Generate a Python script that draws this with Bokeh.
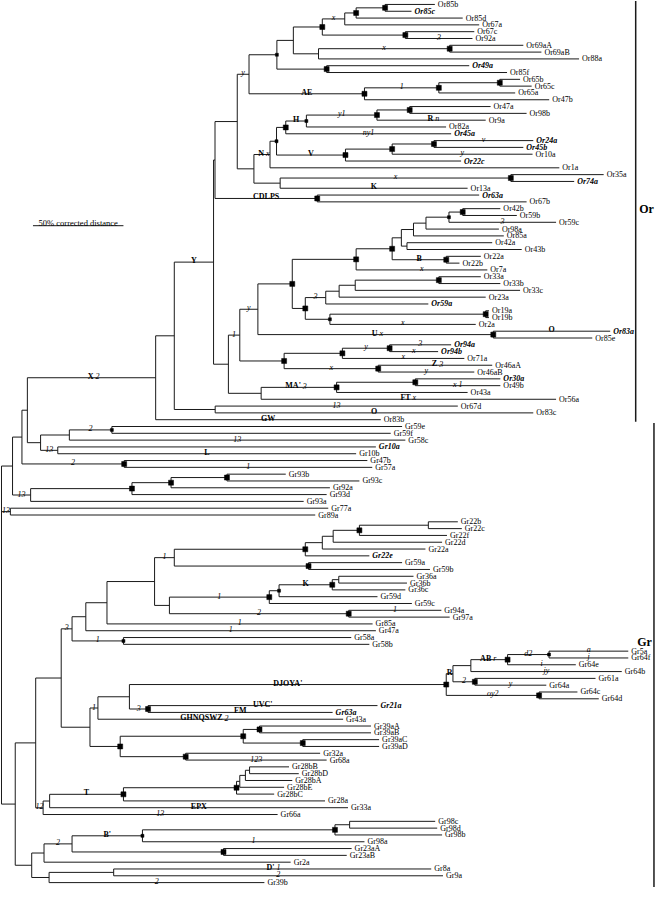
from collections import defaultdict
from bokeh.plotting import figure
from bokeh.models import Range1d, ColumnDataSource
from bokeh.embed import file_html
from bokeh.resources import INLINE
from bokeh.core.properties import value

# ---------------- data ----------------
# internal nodes: (id, parent, distance from root in % corrected distance, branch note, node marker)
OR_NODES = [
    ("b1", "root", 6.1, "", ""), ("b2", "b1", 11.3, "", ""), ("b3", "b2", 14.3, "", ""),
    ("orX", "b3", 85.2, "X 2", ""), ("or1", "orX", 95.5, "", ""), ("orY", "or1", 117.2, "Y", ""),
    ("orA", "orY", 118.0, "", ""), ("orB", "orA", 130.3, "", ""), ("orC", "orB", 136.8, "y", ""),
    ("orD", "orC", 152.2, "", "d"), ("orE", "orD", 161.3, "", ""), ("orF", "orE", 177.3, "", "s"),
    ("orG", "orF", 189.7, "x", ""), ("orH", "orG", 196.0, "", "s"), ("orI", "orH", 212.0, "", "s"),
    ("orJ", "orF", 223.2, "", "s"), ("orK", "orE", 175.2, "", ""), ("orL", "orK", 247.7, "x", "s"),
    ("orM", "orD", 179.7, "", "s"), ("orN", "orC", 200.6, "AE", "s"), ("orO", "orN", 241.7, "1", "s"),
    ("orP", "orO", 275.4, "", "s"), ("orQ", "orB", 139.5, "", ""), ("orR", "orQ", 148.4, "N x", ""),
    ("orS", "orR", 152.0, "", "d"), ("orT", "orS", 157.1, "", "s"), ("orU", "orT", 168.5, "H", "d"),
    ("orV", "orU", 207.5, "y1", "s"), ("orW", "orV", 225.6, "", "s"), ("orX2", "orS", 190.1, "V", "s"),
    ("orY2", "orX2", 215.9, "", "s"), ("orZ", "orY2", 239.0, "", "s"), ("os1", "orQ", 154.0, "", ""),
    ("os2", "os1", 281.5, "x", "s"), ("os3", "orA", 174.5, "CDLPS", "s"), ("os4", "orY", 125.4, "", ""),
    ("os5", "os4", 131.7, "1", ""), ("os6", "os5", 141.7, "y", ""), ("os7", "os6", 160.7, "", "s"),
    ("os8", "os7", 196.0, "", "s"), ("os9", "os8", 215.9, "", "s"), ("ot1", "os9", 221.0, "", ""),
    ("ot2", "ot1", 227.7, "", ""), ("ot3", "ot2", 234.6, "", ""), ("ot4", "ot3", 247.3, "", "d"),
    ("ot5", "ot4", 254.9, "", "s"), ("ot6", "ot1", 224.1, "", ""), ("ot7", "os9", 245.8, "B", "s"),
    ("ot8", "os7", 167.9, "", "s"), ("ot9", "ot8", 179.2, "3", ""), ("ou1", "ot9", 186.6, "", ""),
    ("ou2", "ou1", 195.5, "", ""), ("ou3", "ou2", 241.7, "", "s"), ("ou4", "ot8", 181.5, "", "d"),
    ("ou5", "ou4", 267.6, "", "s"), ("ou6", "os6", 271.8, "U x", "s"), ("ou7", "os5", 156.2, "", "s"),
    ("ou8", "ou7", 188.4, "", "s"), ("ou9", "ou8", 214.5, "y", "s"), ("ov1", "ou7", 208.2, "x", "s"),
    ("ov2", "os4", 143.5, "", ""), ("ov3", "ov2", 185.2, "MA' 3", "s"), ("ov4", "ov3", 228.7, "", "s"),
    ("ov5", "or1", 118.1, "", ""),
]
GR_NODES = [
    ("g1", "b3", 21.6, "", ""), ("g2", "g1", 37.5, "", ""), ("g3", "g2", 61.0, "2", "d"),
    ("g4", "g1", 31.1, "13", ""), ("g5", "b2", 67.8, "2", "s"), ("g6", "b1", 16.1, "13", ""),
    ("g7", "g6", 72.1, "", "s"), ("g8", "g7", 93.7, "", "s"), ("g9", "g8", 124.6, "", "s"),
    ("h1", "root", 4.9, "13", ""), ("h2", "root", 7.6, "", ""), ("h3", "h2", 18.9, "", ""),
    ("h4", "h3", 33.0, "", ""), ("h5", "h4", 39.0, "3", ""), ("h6", "h5", 46.6, "", ""),
    ("h7", "h6", 58.3, "", ""), ("h8", "h7", 84.6, "", ""), ("h9", "h8", 95.5, "1", ""),
    ("k1", "h9", 167.9, "", "s"), ("k2", "k1", 177.3, "", ""), ("k3", "k2", 183.3, "", ""),
    ("k4", "k3", 197.8, "", "s"), ("k5", "k4", 235.9, "", ""), ("k6", "h9", 169.7, "", "s"),
    ("k7", "h8", 92.8, "", ""), ("k8", "k7", 148.0, "1", "s"), ("k9", "k8", 153.4, "", "d"),
    ("m1", "k9", 182.8, "K", "s"), ("m2", "m1", 186.4, "", ""), ("m3", "k7", 191.9, "2", "s"),
    ("m4", "h5", 67.4, "1", "d"), ("m5", "h4", 48.9, "", ""), ("m6", "m5", 53.3, "1", ""),
    ("m7", "m6", 70.7, "", ""), ("m8", "m7", 245.8, "DJOYA'", "s"), ("m9", "m8", 249.5, "R", ""),
    ("n1", "m9", 259.4, "", ""), ("n2", "n1", 279.7, "AB r", "s"), ("n3", "n2", 302.6, "d2", "d"),
    ("n4", "m9", 261.6, "2", "s"), ("n5", "m8", 297.1, "oy2", "s"), ("n6", "m7", 81.0, "3", "s"),
    ("n7", "m5", 65.6, "", "s"), ("n8", "n7", 133.6, "", "s"), ("n9", "n8", 142.6, "", "s"),
    ("p1", "n8", 166.5, "", "s"), ("p2", "n7", 101.8, "", "s"), ("p3", "h3", 23.0, "12", ""),
    ("p4", "p3", 26.6, "", ""), ("p5", "p4", 67.4, "T", "s"), ("p6", "p5", 129.9, "", "s"),
    ("p7", "p6", 131.7, "", ""), ("p8", "p7", 134.8, "", ""), ("p9", "p8", 137.1, "", ""),
    ("q1", "h2", 16.7, "", ""), ("q2", "q1", 23.5, "", ""), ("q3", "q2", 39.0, "2", ""),
    ("q4", "q3", 77.9, "B'", "d"), ("q5", "q4", 184.3, "", "s"), ("q6", "q5", 192.4, "", ""),
    ("q7", "q3", 122.7, "", "s"), ("q8", "q1", 26.3, "", ""), ("q9", "q8", 62.0, "", ""),
]
# leaves in display order: (name, parent, distance, branch note)
OR_LEAVES = [
    ("Or85b", "orI", 239.5, ""), ("Or85c", "orI", 226.6, ""), ("Or85d", "orH", 254.9, ""),
    ("Or67a", "orG", 264.0, ""), ("Or67c", "orJ", 261.3, ""), ("Or92a", "orJ", 260.3, "3"),
    ("Or69aA", "orL", 288.4, ""), ("Or69aB", "orL", 298.4, ""), ("Or88a", "orK", 319.2, ""),
    ("Or49a", "orM", 258.5, ""), ("Or85f", "orM", 279.4, ""), ("Or65b", "orP", 286.6, ""),
    ("Or65c", "orP", 293.0, ""), ("Or65a", "orO", 283.9, ""), ("Or47b", "orN", 302.7, ""),
    ("Or47a", "orW", 270.3, ""), ("Or98b", "orW", 290.2, ""), ("Or9a", "orV", 267.6, "R n"),
    ("Or82a", "orU", 245.7, ""), ("Or45a", "orT", 248.5, "ny1"), ("Or24a", "orZ", 293.9, "v"),
    ("Or45b", "orZ", 288.4, ""), ("Or10a", "orY2", 293.5, "y"), ("Or22c", "orX2", 254.0, ""),
    ("Or1a", "orR", 308.3, ""), ("Or35a", "os2", 332.8, ""), ("Or74a", "os2", 316.5, ""),
    ("Or13a", "os1", 257.6, "K"), ("Or63a", "os3", 264.0, ""), ("Or67b", "os3", 290.2, ""),
    ("Or42b", "ot5", 275.7, ""), ("Or59b", "ot5", 284.8, ""), ("Or59c", "ot4", 306.5, "3"),
    ("Or98a", "ot3", 274.9, ""), ("Or85a", "ot2", 277.6, ""), ("Or42a", "ot6", 271.2, ""),
    ("Or43b", "ot6", 287.5, ""), ("Or22a", "ot7", 264.9, ""), ("Or22b", "ot7", 253.1, ""),
    ("Or7a", "os8", 268.5, "x"), ("Or33a", "ou3", 264.9, ""), ("Or33b", "ou3", 275.7, ""),
    ("Or33c", "ou2", 286.6, ""), ("Or23a", "ou1", 267.6, ""), ("Or59a", "ot9", 235.9, ""),
    ("Or19a", "ou5", 269.4, ""), ("Or19b", "ou5", 269.4, ""), ("Or2a", "ou4", 262.1, "x"),
    ("Or83a", "ou6", 336.4, "O"), ("Or85e", "ou6", 326.5, ""), ("Or94a", "ou9", 248.5, "3"),
    ("Or94b", "ou9", 241.3, "x"), ("Or71a", "ou8", 255.8, "x"), ("Or46aA", "ov1", 271.2, "Z 3"),
    ("Or46aB", "ov1", 261.3, "y"), ("Or30a", "ov4", 275.7, ""), ("Or49b", "ov4", 275.7, "x 1"),
    ("Or43a", "ov3", 257.6, ""), ("Or56a", "ov2", 306.5, "FT x"), ("Or67d", "ov5", 252.2, "13"),
    ("Or83c", "ov5", 293.9, "O"), ("Or83b", "orX", 209.6, "GW"),
]
GR_LEAVES = [
    ("Gr59e", "g3", 221.4, ""), ("Gr59f", "g3", 215.1, ""), ("Gr58c", "g2", 223.2, "13"),
    ("Gr10a", "g4", 206.9, ""), ("Gr10b", "g4", 196.0, "L"), ("Gr47b", "g5", 202.2, ""),
    ("Gr57a", "g5", 204.9, "1"), ("Gr93b", "g9", 157.1, ""), ("Gr93c", "g9", 197.8, ""),
    ("Gr92a", "g8", 181.5, ""), ("Gr93d", "g7", 179.7, ""), ("Gr93a", "g6", 167.0, ""),
    ("Gr77a", "h1", 180.6, ""), ("Gr89a", "h1", 173.4, ""), ("Gr22b", "k5", 252.2, ""),
    ("Gr22c", "k5", 254.4, ""), ("Gr22f", "k4", 246.2, ""), ("Gr22d", "k3", 243.5, ""),
    ("Gr22a", "k2", 234.3, ""), ("Gr22e", "k1", 203.3, ""), ("Gr59a", "k6", 221.4, ""),
    ("Gr59b", "k6", 236.8, ""), ("Gr36a", "m2", 227.7, ""), ("Gr36b", "m2", 224.1, ""),
    ("Gr36c", "m1", 223.2, ""), ("Gr59d", "k9", 207.8, ""), ("Gr59c", "k8", 226.8, ""),
    ("Gr94a", "m3", 243.1, "1"), ("Gr97a", "m3", 247.7, ""), ("Gr85a", "h7", 205.1, "1"),
    ("Gr47a", "h6", 206.9, "1"), ("Gr58a", "m4", 193.3, ""), ("Gr58b", "m4", 203.3, ""),
    ("Gr5a", "n3", 346.4, "a"), ("Gr64f", "n3", 346.4, "j"), ("Gr64e", "n2", 317.4, "i"),
    ("Gr64b", "n1", 342.8, "jy"), ("Gr61a", "n4", 328.3, ""), ("Gr64a", "n4", 301.1, "y"),
    ("Gr64c", "n5", 318.3, ""), ("Gr64d", "n5", 330.1, ""), ("Gr21a", "n6", 207.8, "UVC'"),
    ("Gr63a", "n6", 183.0, "FM"), ("Gr43a", "m6", 188.8, "GHNQSWZ 2"), ("Gr39aA", "n9", 204.2, ""),
    ("Gr39aB", "n9", 204.2, ""), ("Gr39aC", "p1", 208.7, ""), ("Gr39aD", "p1", 208.7, ""),
    ("Gr32a", "p2", 176.1, ""), ("Gr68a", "p2", 179.7, "123"), ("Gr28bB", "p9", 158.9, ""),
    ("Gr28bD", "p9", 164.3, ""), ("Gr28bA", "p8", 160.7, ""), ("Gr28bE", "p7", 156.2, ""),
    ("Gr28bC", "p6", 150.7, ""), ("Gr28a", "p5", 178.8, ""), ("Gr33a", "p4", 191.5, "EPX"),
    ("Gr66a", "p3", 152.6, "13"), ("Gr98c", "q6", 239.7, ""), ("Gr98d", "q6", 240.8, ""),
    ("Gr98b", "q5", 243.5, ""), ("Gr98a", "q4", 200.6, "1"), ("Gr23aA", "q7", 193.5, ""),
    ("Gr23aB", "q7", 190.8, ""), ("Gr2a", "q2", 159.8, ""), ("Gr8a", "q9", 237.5, "D' 1"),
    ("Gr9a", "q9", 244.0, "2"), ("Gr39b", "q8", 145.3, "2"),
]
BOLD_ITALIC = ["Or85c", "Or49a", "Or45a", "Or24a", "Or45b", "Or22c", "Or74a", "Or63a", "Or59a",
               "Or83a", "Or94a", "Or94b", "Or30a", "Gr10a", "Gr22e", "Gr21a", "Gr63a"]
GROUPS = [("Or", "Or85b", "Or83b"), ("Gr", "Gr59e", "Gr39b")]
SCALE_PCT = 50
SCALE_TEXT = "50% corrected distance"

# ---------------- layout of the tree ----------------
parent = {"root": None}
depth = {"root": 0.0}
note = {"root": ""}
mark = {"root": ""}
children = defaultdict(list)
for nid, par, d, nt, mk in OR_NODES + GR_NODES:
    parent[nid], depth[nid], note[nid], mark[nid] = par, d, nt, mk
    children[par].append(nid)
leaves = OR_LEAVES + GR_LEAVES
ypos = {}
for i, (nm, par, d, nt) in enumerate(leaves):
    parent[nm], depth[nm], note[nm] = par, d, nt
    ypos[nm] = float(i)
    children[par].append(nm)


def gety(n):
    if n in ypos:
        return ypos[n]
    ys = [gety(c) for c in children[n]]
    ypos[n] = (min(ys) + max(ys)) / 2.0
    return ypos[n]


gety("root")

hx0, hx1, hy = [], [], []
for n, par in parent.items():
    if par is None:
        continue
    hx0.append(depth[par]); hx1.append(depth[n]); hy.append(ypos[n])
vx, vy0, vy1 = [], [], []
for n, ch in children.items():
    ys = [ypos[c] for c in ch]
    vx.append(depth[n]); vy0.append(min(ys)); vy1.append(max(ys))

FONT = "Liberation Serif"
LINE = "#1a1a1a"

p = figure(width=656, height=887, x_range=Range1d(-0.55, 362.0), y_range=Range1d(129.72, -0.58),
           output_backend="svg", toolbar_location=None, min_border=0,
           x_axis_location=None, y_axis_location=None)
p.grid.visible = False
p.outline_line_color = None
p.background_fill_color = "white"

p.segment(x0=hx0, y0=hy, x1=hx1, y1=hy, line_color=LINE, line_width=1)
p.segment(x0=vx, y0=vy0, x1=vx, y1=vy1, line_color=LINE, line_width=1)

# node markers
for mk, sz in (("s", 5), ("d", 3)):
    ids = [n for n in mark if mark[n] == mk]
    p.scatter(x=[depth[n] for n in ids], y=[ypos[n] for n in ids], marker="square", size=sz,
              fill_color="black", line_color="black", line_width=0.5)

# leaf labels
for style, names in (("normal", [l[0] for l in leaves if l[0] not in BOLD_ITALIC]),
                     ("bold italic", [l[0] for l in leaves if l[0] in BOLD_ITALIC])):
    src = ColumnDataSource(dict(x=[depth[n] for n in names], y=[ypos[n] for n in names], t=names))
    p.text(x="x", y="y", text="t", source=src, text_font=value(FONT), text_font_size="8px",
           text_font_style=style, text_baseline="middle", text_align="left", x_offset=3,
           text_color="black")

# branch notes: capital letters in bold, lower-case letters and numbers in italics
plain, left_part, right_part = [], [], []
for n, t in note.items():
    if not t or parent[n] is None:
        continue
    mx, my = (depth[parent[n]] + depth[n]) / 2.0, ypos[n]
    parts = t.split(" ")
    if len(parts) == 2 and any(ch.isupper() for ch in parts[0]) and not any(ch.isupper() for ch in parts[1]):
        left_part.append((mx, my, parts[0]))
        right_part.append((mx, my, parts[1]))
    else:
        plain.append((mx, my, t, "bold" if any(ch.isupper() for ch in t) else "italic"))

for style in ("bold", "italic"):
    items = [a for a in plain if a[3] == style]
    p.text(x=[a[0] for a in items], y=[a[1] for a in items], text=[a[2] for a in items],
           text_font=value(FONT), text_font_size="8px", text_font_style=style,
           text_baseline="alphabetic", text_align="center", y_offset=-1.5, text_color="black")
p.text(x=[a[0] for a in left_part], y=[a[1] for a in left_part], text=[a[2] for a in left_part],
       text_font=value(FONT), text_font_size="8px", text_font_style="bold", text_baseline="alphabetic",
       text_align="right", x_offset=2, y_offset=-1.5, text_color="black")
p.text(x=[a[0] for a in right_part], y=[a[1] for a in right_part], text=[a[2] for a in right_part],
       text_font=value(FONT), text_font_size="8px", text_font_style="italic", text_baseline="alphabetic",
       text_align="left", x_offset=4, y_offset=-1.5, text_color="black")

# scale bar
sb_x0 = 17.4
sb_y = 32.5
p.segment(x0=[sb_x0], y0=[sb_y], x1=[sb_x0 + SCALE_PCT], y1=[sb_y], line_color=LINE, line_width=1)
p.text(x=[sb_x0 + SCALE_PCT / 2.0], y=[sb_y], text=[SCALE_TEXT], text_font=value(FONT),
       text_font_size="8.5px", text_baseline="alphabetic", text_align="center", y_offset=-3,
       text_color="black")

# gene family brackets
bracket_x = {"Or": 350.5, "Gr": 360.6}
label_pos = {"Or": (352.4, 30.0), "Gr": (351.3, 93.6)}
for g, first, last in GROUPS:
    y0 = ypos[first] - 0.5
    y1 = ypos[last] + 0.3 if g == "Or" else 129.7
    p.segment(x0=[bracket_x[g]], y0=[y0], x1=[bracket_x[g]], y1=[y1], line_color=LINE, line_width=1.5)
    lx, ly = label_pos[g]
    p.text(x=[lx], y=[ly], text=[g], text_font=value(FONT), text_font_size="12px",
           text_font_style="bold", text_baseline="middle", text_align="left", text_color="black")

open("out.html", "w").write(file_html(p, INLINE))
